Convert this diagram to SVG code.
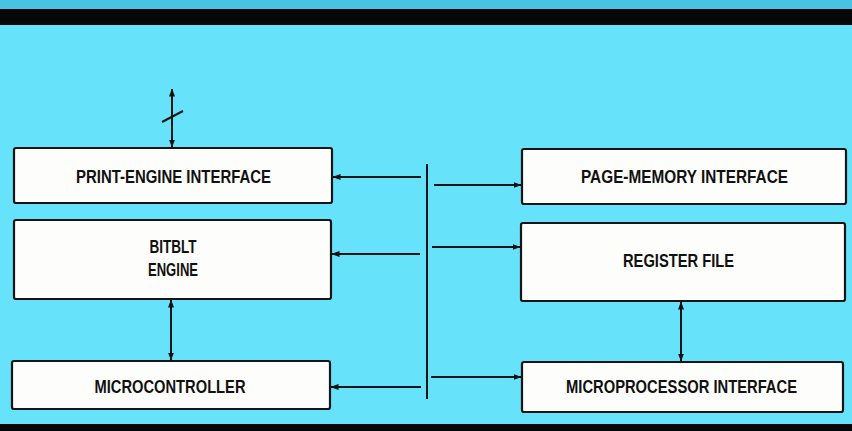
<svg xmlns="http://www.w3.org/2000/svg" width="852" height="431" viewBox="0 0 852 431">
<defs>
<marker id="ah" viewBox="0 0 8 6" refX="7.5" refY="3" markerWidth="8" markerHeight="6" markerUnits="userSpaceOnUse" orient="auto-start-reverse">
<path d="M0,0 L8,3 L0,6 z" fill="#111"/>
</marker>
<style>
.box{fill:#fdfdfb;stroke:#151515;stroke-width:2.2}
.lbl{font-family:"Liberation Sans",Arial,sans-serif;font-weight:bold;font-size:18px;fill:#111;text-anchor:middle}
.ln{stroke:#151515;stroke-width:2;fill:none}
</style>
</defs>
<rect x="0" y="0" width="852" height="431" fill="#66e3fb"/>
<rect x="0" y="0" width="852" height="10" fill="#48c3e4"/>
<rect x="0" y="9" width="852" height="16" fill="#050708"/>
<rect x="0" y="424" width="852" height="7" fill="#050708"/>

<g id="print-engine-interface">
<rect class="box" x="14" y="148" width="318" height="55" rx="2"/>
<text class="lbl" x="173.5" y="183" textLength="195" lengthAdjust="spacingAndGlyphs">PRINT-ENGINE INTERFACE</text>
</g>
<g id="bitblt-engine">
<rect class="box" x="14" y="220" width="317" height="79" rx="2"/>
<text class="lbl" x="173" y="253" textLength="47" lengthAdjust="spacingAndGlyphs">BITBLT</text>
<text class="lbl" x="173" y="276" textLength="50" lengthAdjust="spacingAndGlyphs">ENGINE</text>
</g>
<g id="microcontroller">
<rect class="box" x="12" y="361" width="318" height="48" rx="2"/>
<text class="lbl" x="170" y="393" textLength="151" lengthAdjust="spacingAndGlyphs">MICROCONTROLLER</text>
</g>
<g id="page-memory-interface">
<rect class="box" x="522" y="149" width="324" height="55" rx="2"/>
<text class="lbl" x="684.5" y="183" textLength="207" lengthAdjust="spacingAndGlyphs">PAGE-MEMORY INTERFACE</text>
</g>
<g id="register-file">
<rect class="box" x="521" y="223" width="324" height="78" rx="2"/>
<text class="lbl" x="678.5" y="267" textLength="111" lengthAdjust="spacingAndGlyphs">REGISTER FILE</text>
</g>
<g id="microprocessor-interface">
<rect class="box" x="522" y="362" width="321" height="50" rx="2"/>
<text class="lbl" x="681.5" y="393" textLength="231" lengthAdjust="spacingAndGlyphs">MICROPROCESSOR INTERFACE</text>
</g>

<g id="connectors">
<line class="ln" x1="427" y1="164" x2="427" y2="399"/>
<line class="ln" x1="421" y1="177" x2="333" y2="177" marker-end="url(#ah)"/>
<line class="ln" x1="420" y1="254" x2="332" y2="254" marker-end="url(#ah)"/>
<line class="ln" x1="421" y1="387" x2="331" y2="387" marker-end="url(#ah)"/>
<line class="ln" x1="434" y1="185" x2="521" y2="185" marker-end="url(#ah)"/>
<line class="ln" x1="432" y1="247" x2="520" y2="247" marker-end="url(#ah)"/>
<line class="ln" x1="431" y1="377" x2="521" y2="377" marker-end="url(#ah)"/>
<line class="ln" x1="172" y1="89" x2="172" y2="147" marker-start="url(#ah)" marker-end="url(#ah)"/>
<line class="ln" x1="162" y1="122" x2="183" y2="111"/>
<line class="ln" x1="171" y1="300" x2="171" y2="360" marker-start="url(#ah)" marker-end="url(#ah)"/>
<line class="ln" x1="681" y1="302" x2="681" y2="361" marker-start="url(#ah)" marker-end="url(#ah)"/>
</g>
</svg>
